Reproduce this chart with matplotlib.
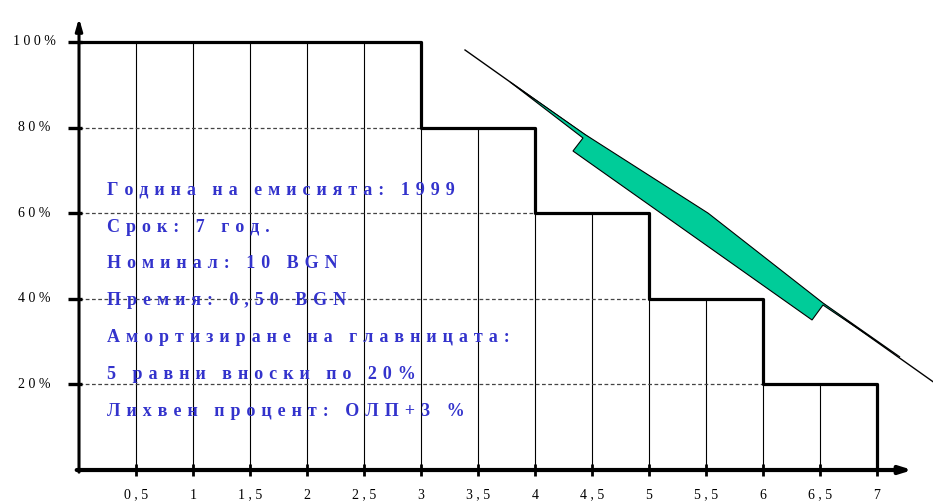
import numpy as np
import matplotlib.pyplot as plt

# principal still outstanding (% of nominal) at each year
years = [0, 1, 2, 3, 4, 5, 6, 7]
principal = [100, 100, 100, 80, 60, 40, 20, 0]

x_ticks = [0.5, 1, 1.5, 2, 2.5, 3, 3.5, 4, 4.5, 5, 5.5, 6, 6.5, 7]
x_labels = ["0,5", "1", "1,5", "2", "2,5", "3", "3,5", "4", "4,5", "5", "5,5", "6", "6,5", "7"]
y_ticks = [20, 40, 60, 80, 100]
y_labels = ["20%", "40%", "60%", "80%", "100%"]

info_lines = [
    "Година на емисията: 1999",
    "Срок: 7 год.",
    "Номинал: 10 BGN",
    "Премия: 0,50 BGN",
    "Амортизиране на главницата:",
    "5 равни вноски по 20%",
    "Лихвен процент: ОЛП+3 %",
]

# decorative trend line and green arrow
trend_x = [3.386, 7.491]
trend_y = [98.13, 20.63]
arrow_x = [3.781, 4.421, 4.333, 6.430, 6.526, 7.202, 6.526, 5.519, 4.439]
arrow_y = [90.65, 77.57, 74.53, 35.05, 38.55, 26.40, 39.02, 60.00, 78.39]


def spaced(s, sep):
    return sep.join(list(s))


serif = ["Liberation Serif", "DejaVu Serif"]

fig = plt.figure(figsize=(9.33, 5.04), dpi=100)
ax = fig.add_axes([0, 0, 1, 1])
ax.set_xlim(-0.693, 7.491)
ax.set_ylim(-7.94, 109.81)
ax.axis("off")

# thin verticals every half year, up to the step
heights = [principal[int(np.floor(x))] for x in x_ticks[:-1]]
ax.vlines(x_ticks[:-1], 0, heights, color="black", lw=0.8, zorder=2)

# dashed levels from the y axis to the step
ax.hlines(principal[3:7], 0, years[3:7], color="#444444", lw=0.9,
          linestyles=(0, (3, 2)), zorder=2)

# the step itself
ax.step(years, principal, where="post", color="black", lw=2.3, zorder=3)

# axes with arrows
ax.annotate("", xy=(7.31, 0), xytext=(-0.02, 0),
            arrowprops=dict(arrowstyle="-|>,head_length=0.7,head_width=0.22",
                            color="black", lw=3, shrinkA=0, shrinkB=0), zorder=4)
ax.annotate("", xy=(0, 105.6), xytext=(0, -0.5),
            arrowprops=dict(arrowstyle="-|>,head_length=0.7,head_width=0.2",
                            color="black", lw=2.2, shrinkA=0, shrinkB=0), zorder=4)

# tick marks
ax.vlines(x_ticks, -1.3, 1.3, color="black", lw=2, zorder=4)
ax.hlines(y_ticks, -0.1, 0.03, color="black", lw=2.4, zorder=4)

for x, lab in zip(x_ticks, x_labels):
    ax.text(x, -5.84, spaced(lab, " "), ha="center", va="center",
            fontsize=10, family=serif)
for y, lab in zip(y_ticks, y_labels):
    ax.text(-0.395, y, spaced(lab, " "), ha="center", va="center",
            fontsize=10, family=serif)

# info text block
for i, line in enumerate(info_lines):
    ax.text(0.246, 64.3 - i * 8.6, spaced(line, "\u2004"), ha="left", va="baseline",
            fontsize=13, fontweight="bold", color="#3333cc", family=serif, zorder=5)

# trend line + green arrow
ax.plot(trend_x, trend_y, color="black", lw=1, zorder=5)
ax.fill(arrow_x, arrow_y, facecolor="#00cc99", edgecolor="black", lw=0.8, zorder=6)

fig.savefig("out.png", dpi=100)
